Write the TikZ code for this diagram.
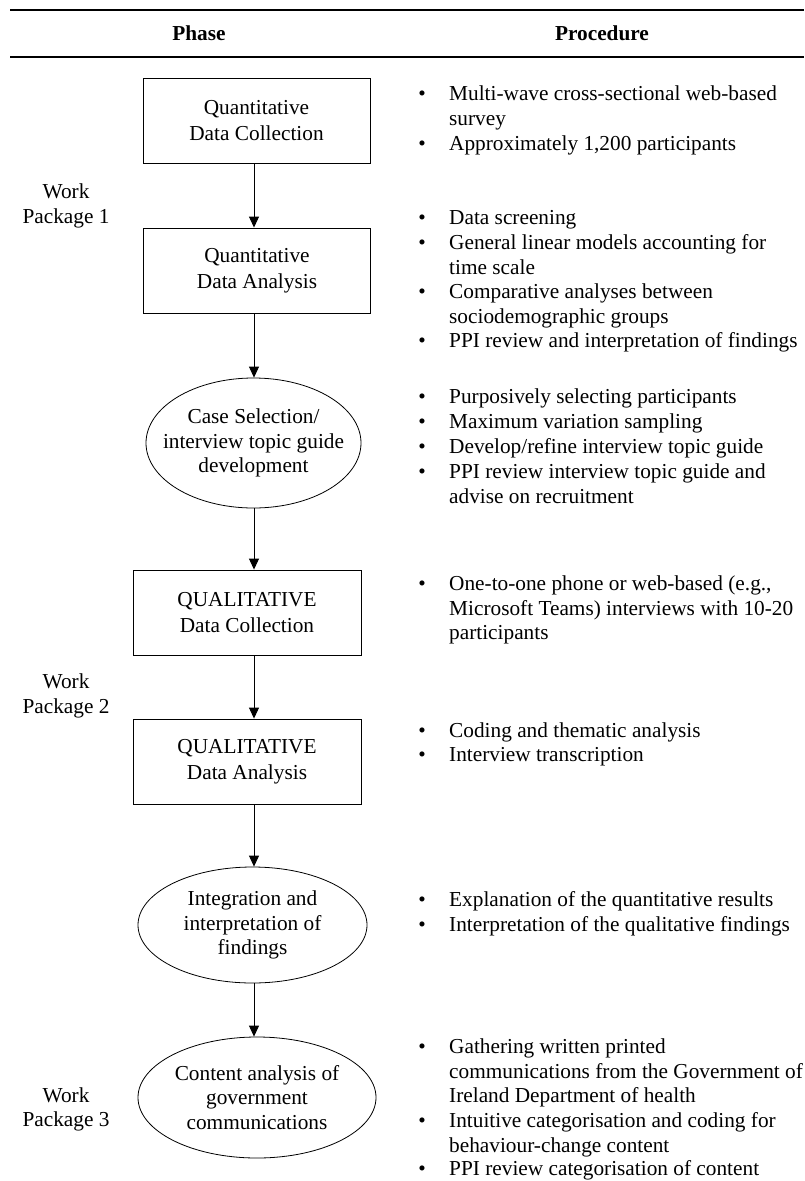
\documentclass[tikz,border=0pt]{standalone}
\usepackage{fontspec}
\setmainfont{Liberation Serif}
\usetikzlibrary{arrows.meta,shapes.geometric}
\begin{document}
\begin{tikzpicture}[x=1pt,y=-1pt,
  phasebox/.style={draw, line width=0.9pt, minimum width=227pt, minimum height=85pt, inner sep=0pt, align=center, font=\fontsize{21.3}{26.5}\selectfont},
  phaseoval/.style={draw, ellipse, line width=0.8pt, inner sep=0pt},
  ovaltext/.style={align=center, inner sep=0pt, font=\fontsize{21.3}{24.5}\selectfont},
  flow/.style={-{Triangle[width=10pt,length=11pt]}, line width=1pt},
  wplabel/.style={align=center, inner sep=0pt, font=\fontsize{21.3}{24.5}\selectfont},
  bul/.style={anchor=base, inner sep=0pt, font=\fontsize{21.3}{24.6}\selectfont},
  proc/.style={anchor=base west, inner sep=0pt, font=\fontsize{21.3}{24.6}\selectfont},
  head/.style={inner sep=0pt, font=\fontsize{21.3}{25}\selectfont\bfseries}
]
\useasboundingbox (0,0) rectangle (804,1181);

% table rules
\coordinate (r1a) at (10,9.5);
\coordinate (r1b) at (804,9.5);
\coordinate (r2a) at (10,57);
\coordinate (r2b) at (804,57);
\draw[line width=2pt] (r1a) -- (r1b);
\draw[line width=1.2pt] (r2a) -- (r2b);

% headers
\node[head] (hphase) at (199,33) {Phase};
\node[head] (hproc) at (602,33) {Procedure};

% phase nodes
\node[phasebox] (qdc) at (256.5,120.5) {Quantitative\\Data Collection};
\node[phasebox] (qda) at (257,270.5) {Quantitative\\Data Analysis};
\node[phaseoval, minimum width=215pt, minimum height=130pt] (cs) at (253.5,443) {};
\node[ovaltext] (cst) at (cs.center) {Case Selection/\\interview topic guide\\development};
\node[phasebox, minimum width=228pt] (qldc) at (247,612.5) {QUALITATIVE\\Data Collection};
\node[phasebox, minimum width=228pt] (qlda) at (247,761.5) {QUALITATIVE\\Data Analysis};
\node[phaseoval, minimum width=229pt, minimum height=116pt] (integ) at (252.5,925) {};
\node[ovaltext] (integt) at (integ.center) {Integration and\\interpretation of\\findings};
\node[phaseoval, minimum width=238pt, minimum height=121pt] (content) at (257,1097.5) {};
\node[ovaltext] (contentt) at (content.center) {Content analysis of\\government\\communications};

% work package labels
\node[wplabel] (wp1) at (66,206) {Work\\Package 1};
\node[wplabel] (wp2) at (66,696) {Work\\Package 2};
\node[wplabel] (wp3) at (66,1109.5) {Work\\Package 3};

% connectors
\coordinate (spine) at (254,0);
\draw[flow] (qdc.south -| spine) -- (qda.north -| spine);
\draw[flow] (qda.south -| spine) -- (cs.north -| spine);
\draw[flow] (cs.south -| spine) -- (qldc.north -| spine);
\draw[flow] (qldc.south -| spine) -- (qlda.north -| spine);
\draw[flow] (qlda.south -| spine) -- (integ.north -| spine);
\draw[flow] (integ.south -| spine) -- (content.north -| spine);

% procedures
\node[bul] (b1) at (422,100.5) {•};
\node[proc] (p1) at (449,100.5) {\parbox[t]{400pt}{\raggedright Multi-wave cross-sectional web-based\\survey}};
\node[bul] (b2) at (422,150.5) {•};
\node[proc] (p2) at (449,150.5) {Approximately 1,200 participants};

\node[bul] (b3) at (422,224.5) {•};
\node[proc] (p3) at (449,224.5) {Data screening};
\node[bul] (b4) at (422,249.5) {•};
\node[proc] (p4) at (449,249.5) {\parbox[t]{400pt}{\raggedright General linear models accounting for\\time scale}};
\node[bul] (b5) at (422,298.5) {•};
\node[proc] (p5) at (449,298.5) {\parbox[t]{400pt}{\raggedright Comparative analyses between\\sociodemographic groups}};
\node[bul] (b6) at (422,347.5) {•};
\node[proc] (p6) at (449,347.5) {PPI review and interpretation of findings};

\node[bul] (b7) at (422,403.5) {•};
\node[proc] (p7) at (449,403.5) {Purposively selecting participants};
\node[bul] (b8) at (422,428.5) {•};
\node[proc] (p8) at (449,428.5) {Maximum variation sampling};
\node[bul] (b9) at (422,453.5) {•};
\node[proc] (p9) at (449,453.5) {Develop/refine interview topic guide};
\node[bul] (b10) at (422,478.5) {•};
\node[proc] (p10) at (449,478.5) {\parbox[t]{400pt}{\raggedright PPI review interview topic guide and\\advise on recruitment}};

\node[bul] (b11) at (422,590.5) {•};
\node[proc] (p11) at (449,590.5) {\parbox[t]{400pt}{\raggedright One-to-one phone or web-based (e.g.,\\Microsoft Teams) interviews with 10-20\\participants}};

\node[bul] (b12) at (422,737.5) {•};
\node[proc] (p12) at (449,737.5) {Coding and thematic analysis};
\node[bul] (b13) at (422,761.5) {•};
\node[proc] (p13) at (449,761.5) {Interview transcription};

\node[bul] (b14) at (422,906.5) {•};
\node[proc] (p14) at (449,906.5) {Explanation of the quantitative results};
\node[bul] (b15) at (422,931.5) {•};
\node[proc] (p15) at (449,931.5) {Interpretation of the qualitative findings};

\node[bul] (b16) at (422,1053.5) {•};
\node[proc] (p16) at (449,1053.5) {\parbox[t]{400pt}{\raggedright Gathering written printed\\communications from the Government of\\Ireland Department of health}};
\node[bul] (b17) at (422,1127.5) {•};
\node[proc] (p17) at (449,1127.5) {\parbox[t]{400pt}{\raggedright Intuitive categorisation and coding for\\behaviour-change content}};
\node[bul] (b18) at (422,1175.5) {•};
\node[proc] (p18) at (449,1175.5) {PPI review categorisation of content};
\end{tikzpicture}
\end{document}
